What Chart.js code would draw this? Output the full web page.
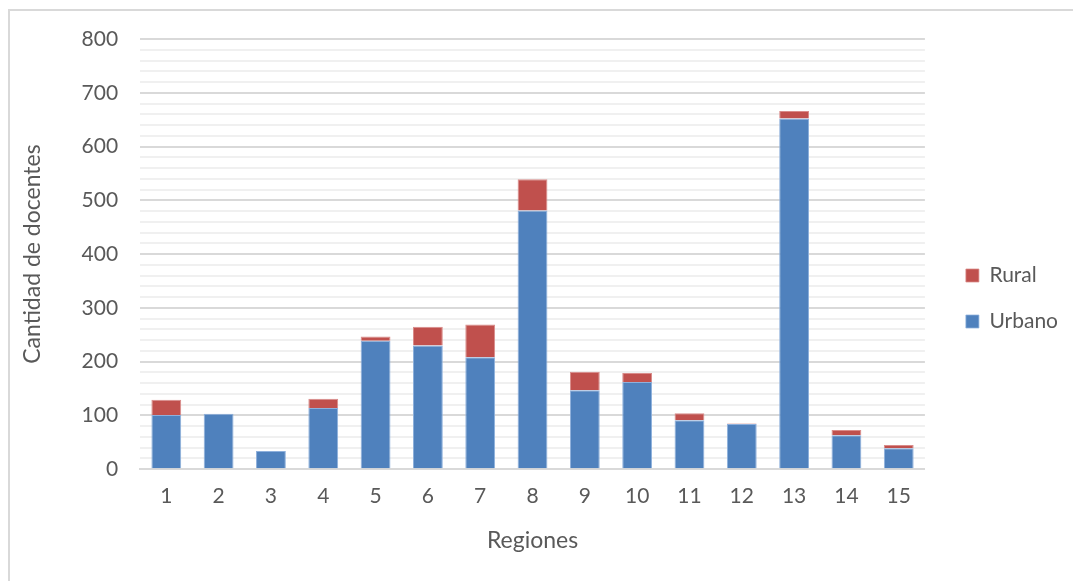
<!DOCTYPE html>
<html>
<head>
<meta charset="utf-8">
<script src="https://cdn.jsdelivr.net/npm/chart.js@4"></script>
<style>
  html, body { margin: 0; padding: 0; background: #fff; }
  #wrap { position: absolute; left: 8px; top: 9px; width: 1065px; height: 572px;
          border-left: 2px solid #d9d9d9; border-top: 2px solid #d9d9d9; box-sizing: border-box; }
  canvas { display: block; }
</style>
</head>
<body>
<div id="wrap"><canvas id="c"></canvas></div>
<script>
const categories = ['1','2','3','4','5','6','7','8','9','10','11','12','13','14','15'];
const urbano = [101, 103, 34, 114, 239, 230, 208, 481, 147, 162, 91, 84, 652, 63, 39];
const rural  = [28, 0, 0, 17, 8, 35, 61, 58, 34, 17, 13, 1, 14, 10, 6];
const yTickStep = 100;
const yMax = 800;

const FONT = 'Lato, "Open Sans", sans-serif';
const TXT = '#595959';

new Chart(document.getElementById('c'), {
  type: 'bar',
  data: {
    labels: categories,
    datasets: [
      { label: 'Urbano', data: urbano, backgroundColor: '#4f81bd', borderColor: '#8eb0dc', borderWidth: {left:1,right:1,top:1,bottom:0}, borderSkipped: false },
      { label: 'Rural', data: rural, backgroundColor: '#c0504d', borderColor: '#d98c8a', borderWidth: {left:1,right:1,top:1,bottom:0}, borderSkipped: false }
    ]
  },
  options: {
    responsive: true,
    maintainAspectRatio: false,
    animation: false,
    layout: { padding: { left: 5, right: 5, top: 28, bottom: 23 } },
    datasets: { bar: { categoryPercentage: 1.0, barPercentage: 0.57 } },
    plugins: {
      tooltip: { enabled: false },
      legend: {
        position: 'right',
        reverse: true,
        labels: {
          boxWidth: 13, boxHeight: 13, padding: 25,
          color: TXT, font: { family: FONT, size: 21 }
        }
      }
    },
    scales: {
      x: {
        stacked: true,
        grid: { display: false, drawTicks: false },
        border: { color: '#d9d9d9', width: 2 },
        ticks: { color: TXT, font: { family: FONT, size: 21 }, padding: 14 },
        title: { display: true, text: 'Regiones', color: TXT, font: { family: FONT, size: 23 }, padding: { top: 4 } }
      },
      y: {
        stacked: true,
        min: 0, max: yMax,
        grid: {
          drawTicks: true,
          tickLength: 18,
          tickColor: 'rgba(0,0,0,0)',
          color: ctx => (ctx.tick && ctx.tick.value % yTickStep === 0) ? '#d9d9d9' : '#f0f0f0',
          lineWidth: 2
        },
        border: { display: false },
        ticks: {
          stepSize: 20,
          autoSkip: false,
          color: TXT, font: { family: FONT, size: 21 }, padding: 4,
          callback: v => (v % yTickStep === 0) ? v : ''
        },
        title: { display: true, text: 'Cantidad de docentes', color: TXT, font: { family: FONT, size: 23 }, padding: { top: 4, bottom: 31 } }
      },
      ySpacer: {
        position: 'right',
        display: true,
        min: 0, max: yMax,
        grid: { display: false, drawTicks: false },
        border: { display: false },
        ticks: { display: false },
        afterFit: s => { s.width = 16; }
      }
    }
  }
});
</script>
</body>
</html>
